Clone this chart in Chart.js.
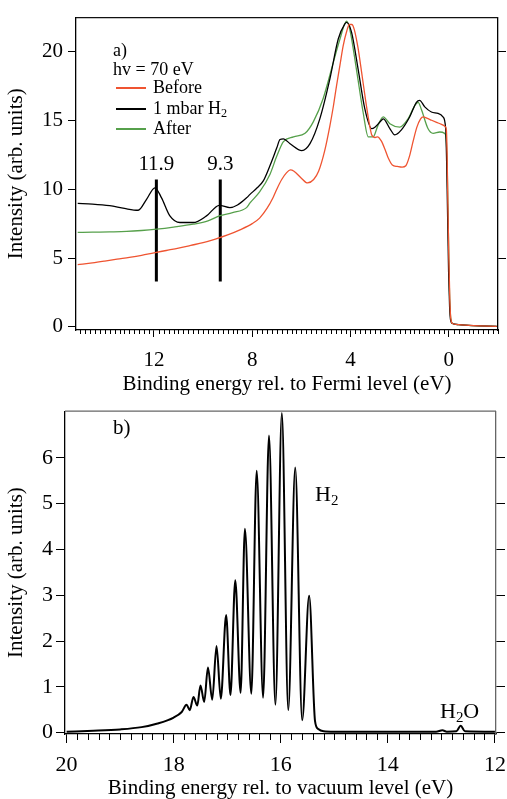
<!DOCTYPE html>
<html>
<head>
<meta charset="utf-8">
<script src="https://cdn.jsdelivr.net/npm/chart.js@4.4.0/dist/chart.umd.min.js"></script>
<style>
  body { margin: 0; background: #fff; }
  .panel { position: absolute; left: 0; }
</style>
</head>
<body>
<div class="panel" style="top:0"><canvas id="topCanvas" width="507" height="395"></canvas></div>
<div class="panel" style="top:395px"><canvas id="bottomCanvas" width="507" height="404"></canvas></div>
<script>
// ---- panel a) valence band, binding energy rel. to Fermi level (eV) ----
var beforeE = [15.1, 14.5, 14.0, 13.5, 13.0, 12.5, 12.0, 11.5, 11.0, 10.5, 10.0, 9.5, 9.0, 8.5, 8.0, 7.7, 7.4, 7.15, 7.0, 6.8, 6.6, 6.45, 6.3, 6.0, 5.75, 5.5, 5.3, 5.05, 4.84, 4.7, 4.57, 4.43, 4.3, 4.15, 4.05, 3.95, 3.85, 3.7, 3.55, 3.4, 3.25, 3.14, 3.0, 2.9, 2.75, 2.6, 2.45, 2.3, 2.1, 1.9, 1.75, 1.6, 1.45, 1.3, 1.15, 1.05, 0.9, 0.7, 0.5, 0.3, 0.15, 0.1, 0.07, 0.04, 0.0, -0.04, -0.08, -0.15, -0.4, -1.0, -1.95];
var beforeI = [4.52, 4.65, 4.78, 4.92, 5.05, 5.2, 5.38, 5.55, 5.72, 5.92, 6.12, 6.38, 6.68, 7.05, 7.5, 7.9, 8.6, 9.4, 10.0, 10.7, 11.2, 11.4, 11.3, 10.8, 10.45, 10.7, 11.3, 12.8, 14.6, 16.0, 17.5, 19.0, 20.4, 21.5, 21.95, 21.95, 21.6, 20.3, 18.5, 16.6, 14.9, 13.95, 13.75, 13.8, 13.5, 12.9, 12.2, 11.75, 11.65, 11.6, 11.7, 12.4, 13.5, 14.5, 15.1, 15.25, 15.15, 15.0, 14.85, 14.7, 14.55, 14.3, 12.5, 9.0, 5.0, 2.0, 0.6, 0.25, 0.17, 0.1, 0.05];

var h2E = [15.1, 14.5, 13.8, 13.2, 12.64, 12.3, 11.96, 11.69, 11.35, 10.94, 10.4, 9.86, 9.34, 8.91, 8.6, 8.23, 8.09, 7.8, 7.55, 7.28, 7.0, 6.87, 6.73, 6.46, 5.98, 5.65, 5.25, 4.84, 4.5, 4.23, 4.16, 3.96, 3.69, 3.42, 3.14, 3.01, 2.74, 2.67, 2.4, 2.2, 1.93, 1.59, 1.32, 1.19, 0.98, 0.71, 0.44, 0.24, 0.13, 0.09, 0.05, 0.01, -0.03, -0.07, -0.15, -0.4, -1.0, -1.95];
var h2I = [8.97, 8.92, 8.8, 8.6, 8.47, 9.26, 10.1, 9.37, 8.06, 7.58, 7.58, 8.06, 8.83, 8.66, 8.85, 9.37, 9.62, 10.1, 10.6, 11.7, 13.0, 13.6, 13.65, 13.3, 12.8, 13.3, 15.1, 18.0, 20.9, 22.0, 22.1, 21.4, 18.7, 15.85, 14.4, 14.5, 15.0, 15.1, 14.4, 13.94, 14.3, 15.25, 16.3, 16.45, 15.97, 15.6, 15.5, 15.25, 14.4, 12.0, 8.0, 4.0, 1.5, 0.5, 0.25, 0.17, 0.1, 0.05];

var afterE = [15.1, 14.5, 13.8, 13.11, 12.5, 11.89, 11.2, 10.4, 9.8, 9.34, 8.8, 8.23, 8.09, 7.7, 7.28, 7.0, 6.73, 6.32, 5.85, 5.51, 5.11, 4.7, 4.43, 4.16, 4.03, 3.76, 3.49, 3.28, 3.08, 2.88, 2.67, 2.4, 2.0, 1.66, 1.39, 1.25, 1.12, 0.85, 0.64, 0.37, 0.17, 0.1, 0.06, 0.02, -0.02, -0.06, -0.1, -0.15, -0.4, -1.0, -1.95];
var afterI = [6.86, 6.88, 6.9, 6.93, 7.0, 7.1, 7.25, 7.46, 7.7, 8.06, 8.3, 8.66, 9.0, 9.8, 11.07, 12.4, 13.45, 13.8, 14.05, 14.9, 16.6, 19.2, 20.9, 22.2, 21.6, 18.7, 15.6, 13.8, 13.8, 14.65, 15.25, 14.75, 14.5, 15.1, 16.05, 16.3, 15.8, 14.4, 14.05, 14.15, 14.05, 13.4, 11.0, 7.0, 3.0, 1.0, 0.4, 0.25, 0.17, 0.1, 0.05];

var markerE = [11.9, 9.3];
var markerI = [3.3, 10.7];
var topTicksX = [0, 4, 8, 12];
var topTicksY = [0, 5, 10, 15, 20];

// ---- panel b) gas phase, binding energy rel. to vacuum level (eV) ----
var gasE = [20.0, 19.5, 19.0, 18.6, 18.3, 18.0, 17.85, 17.76, 17.7, 17.63, 17.56, 17.5, 17.43, 17.36, 17.28, 17.2, 17.12, 17.02, 16.94, 16.85, 16.75, 16.67, 16.55, 16.45, 16.33, 16.22, 16.1, 15.98, 15.86, 15.73, 15.6, 15.47, 15.36, 15.3, 15.2, 15.0, 14.0, 13.1, 12.98, 12.9, 12.72, 12.64, 12.56, 12.0];
var gasI = [0.02, 0.04, 0.07, 0.12, 0.2, 0.33, 0.45, 0.61, 0.49, 0.78, 0.59, 1.03, 0.67, 1.42, 0.72, 1.89, 0.74, 2.57, 0.82, 3.33, 0.87, 4.45, 0.85, 5.72, 0.76, 6.49, 0.61, 6.98, 0.49, 5.79, 0.27, 2.99, 0.25, 0.08, 0.03, 0.02, 0.02, 0.02, 0.05, 0.02, 0.03, 0.15, 0.03, 0.02];
var bottomTicksX = [12, 14, 16, 18, 20];
var bottomTicksY = [0, 1, 2, 3, 4, 5, 6];

var red = '#ef5431';
var green = '#56a04b';
var serif = "'Liberation Serif', 'DejaVu Serif', serif";

Chart.defaults.font.family = serif;
Chart.defaults.color = '#000';

function pts(xs, ys) {
	return xs.map(function(x, i) { return {x: x, y: ys[i]}; });
}

function fixTicks(vals) {
	return function(scale) {
		scale.ticks = vals.map(function(v) { return {value: v}; });
	};
}

// minor ticks under the x axis + top frame line
function axisExtras(step, perMajor, len, frameColor) {
	return {
		id: 'axisExtras',
		afterDraw: function(chart) {
			var ctx = chart.ctx, x = chart.scales.x, a = chart.chartArea;
			ctx.save();
			ctx.strokeStyle = '#000';
			ctx.lineWidth = 1;
			var k0 = Math.ceil(Math.min(x.min, x.max) / step - 1e-6);
			var k1 = Math.floor(Math.max(x.min, x.max) / step + 1e-6);
			ctx.beginPath();
			for (var k = k0; k <= k1; k++) {
				if (k % perMajor === 0) continue;
				var px = Math.round(x.getPixelForValue(k * step)) + 0.5;
				ctx.moveTo(px, a.bottom);
				ctx.lineTo(px, a.bottom + len);
			}
			ctx.stroke();
			ctx.strokeStyle = frameColor;
			ctx.lineWidth = 1.3;
			ctx.beginPath();
			ctx.moveTo(a.left, a.top);
			ctx.lineTo(a.right, a.top);
			ctx.stroke();
			ctx.restore();
		}
	};
}

// text with a subscript part, e.g. H + 2 (+ O)
function subText(ctx, x, y, parts, size) {
	var cx = x;
	parts.forEach(function(p) {
		var s = p.sub ? size * 0.68 : size;
		ctx.font = s + 'px ' + serif;
		ctx.fillText(p.t, cx, p.sub ? y + size * 0.28 : y);
		cx += ctx.measureText(p.t).width;
	});
}

var topLabels = {
	id: 'topLabels',
	afterDraw: function(chart) {
		var ctx = chart.ctx, x = chart.scales.x, y = chart.scales.y;
		ctx.save();
		ctx.fillStyle = '#000';
		ctx.textBaseline = 'middle';
		ctx.textAlign = 'left';
		ctx.font = '18px ' + serif;
		ctx.fillText('a)', 113, 51);
		ctx.fillText('hv = 70 eV', 113, 70);
		var rows = [88, 109, 129];
		for (var i = 0; i < 3; i++) {
			var ds = chart.data.datasets[i];
			ctx.strokeStyle = ds.borderColor;
			ctx.lineWidth = 2;
			ctx.beginPath();
			ctx.moveTo(116, rows[i]);
			ctx.lineTo(146, rows[i]);
			ctx.stroke();
			if (ds.label === '1 mbar H2') {
				subText(ctx, 153, rows[i], [{t: '1 mbar H'}, {t: '2', sub: true}], 18);
			} else {
				ctx.font = '18px ' + serif;
				ctx.fillText(ds.label, 153, rows[i]);
			}
		}
		ctx.textAlign = 'center';
		ctx.font = '21px ' + serif;
		markerE.forEach(function(e) {
			ctx.fillText(e.toFixed(1), x.getPixelForValue(e), y.getPixelForValue(11.8));
		});
		ctx.restore();
	}
};

var bottomLabels = {
	id: 'bottomLabels',
	afterDraw: function(chart) {
		var ctx = chart.ctx;
		ctx.save();
		ctx.fillStyle = '#000';
		ctx.textBaseline = 'middle';
		ctx.textAlign = 'left';
		ctx.font = '21px ' + serif;
		ctx.fillText('b)', 113, 33);
		subText(ctx, 315, 100, [{t: 'H'}, {t: '2', sub: true}], 22);
		subText(ctx, 440, 317, [{t: 'H'}, {t: '2', sub: true}, {t: 'O'}], 22);
		ctx.restore();
	}
};

function axisStyle(extra) {
	var base = {
		type: 'linear',
		grid: {drawOnChartArea: false, tickColor: '#000', tickWidth: 1},
		border: {color: '#000', width: 1.3},
		ticks: {color: '#000', maxRotation: 0}
	};
	return Object.assign(base, extra);
}

var topChart = new Chart(document.getElementById('topCanvas'), {
	type: 'line',
	data: {
		datasets: [
			{label: 'Before', data: pts(beforeE, beforeI), borderColor: red, borderWidth: 1.3, pointRadius: 0, cubicInterpolationMode: 'monotone'},
			{label: '1 mbar H2', data: pts(h2E, h2I), borderColor: '#000', borderWidth: 1.3, pointRadius: 0, cubicInterpolationMode: 'monotone'},
			{label: 'After', data: pts(afterE, afterI), borderColor: green, borderWidth: 1.3, pointRadius: 0, cubicInterpolationMode: 'monotone'},
			{label: 'm1', data: [{x: markerE[0], y: markerI[0]}, {x: markerE[0], y: markerI[1]}], borderColor: '#000', borderWidth: 3, pointRadius: 0},
			{label: 'm2', data: [{x: markerE[1], y: markerI[0]}, {x: markerE[1], y: markerI[1]}], borderColor: '#000', borderWidth: 3, pointRadius: 0}
		]
	},
	options: {
		responsive: false,
		animation: false,
		events: [],
		layout: {padding: {top: 15}},
		plugins: {legend: {display: false}, tooltip: {enabled: false}},
		scales: {
			x: axisStyle({
				reverse: true, min: -2.0, max: 15.17,
				afterBuildTicks: fixTicks(topTicksX),
				afterFit: function(s) { s.height = 65; },
				grid: {drawOnChartArea: false, tickColor: '#000', tickWidth: 1, tickLength: 7},
				ticks: {color: '#000', maxRotation: 0, padding: 11, font: {size: 21}},
				title: {display: true, text: 'Binding energy rel. to Fermi level (eV)', color: '#000', font: {size: 21, lineHeight: 1}, padding: 0}
			}),
			y: axisStyle({
				min: -0.22, max: 22.45,
				afterBuildTicks: fixTicks(topTicksY),
				afterFit: function(s) { s.width = 76; },
				grid: {drawOnChartArea: false, tickColor: '#000', tickWidth: 1, tickLength: 8},
				ticks: {color: '#000', padding: 5, font: {size: 21}},
				title: {display: true, text: 'Intensity (arb. units)', color: '#000', font: {size: 21, lineHeight: 1}, padding: {top: 6, bottom: 0}}
			}),
			y2: axisStyle({
				position: 'right', min: -0.22, max: 22.45,
				afterBuildTicks: fixTicks(topTicksY.slice(1)),
				afterFit: function(s) { s.width = 9; },
				grid: {drawOnChartArea: false, tickColor: '#000', tickWidth: 1, tickLength: 8},
				ticks: {display: false}
			})
		}
	},
	plugins: [axisExtras(0.2, 20, 4, '#111'), topLabels]
});

var bottomChart = new Chart(document.getElementById('bottomCanvas'), {
	type: 'line',
	data: {
		datasets: [
			{label: 'H2', data: pts(gasE, gasI), borderColor: '#000', borderWidth: 2, pointRadius: 0, cubicInterpolationMode: 'monotone'}
		]
	},
	options: {
		responsive: false,
		animation: false,
		events: [],
		layout: {padding: {top: 14}},
		plugins: {legend: {display: false}, tooltip: {enabled: false}},
		scales: {
			x: axisStyle({
				reverse: true, min: 11.98, max: 20.03,
				afterBuildTicks: fixTicks(bottomTicksX),
				afterFit: function(s) { s.height = 65; },
				grid: {drawOnChartArea: false, tickColor: '#000', tickWidth: 1, tickLength: 9},
				ticks: {color: '#000', maxRotation: 0, padding: 9, font: {size: 22}},
				title: {display: true, text: 'Binding energy rel. to vacuum level (eV)', color: '#000', font: {size: 21, lineHeight: 1}, padding: 0}
			}),
			y: axisStyle({
				min: -0.03, max: 7.02,
				afterBuildTicks: fixTicks(bottomTicksY),
				afterFit: function(s) { s.width = 65; },
				grid: {drawOnChartArea: false, tickColor: '#000', tickWidth: 1, tickLength: 9},
				ticks: {color: '#000', padding: 3, font: {size: 22}},
				title: {display: true, text: 'Intensity (arb. units)', color: '#000', font: {size: 21, lineHeight: 1}, padding: {top: 6, bottom: 0}}
			}),
			y2: axisStyle({
				position: 'right', min: -0.03, max: 7.02,
				afterBuildTicks: fixTicks(bottomTicksY),
				afterFit: function(s) { s.width = 11; },
				grid: {drawOnChartArea: false, tickColor: '#000', tickWidth: 1, tickLength: 9},
				border: {color: '#666', width: 1.3},
				ticks: {display: false}
			})
		}
	},
	plugins: [axisExtras(0.2, 10, 6, '#666'), bottomLabels]
});
</script>
</body>
</html>
